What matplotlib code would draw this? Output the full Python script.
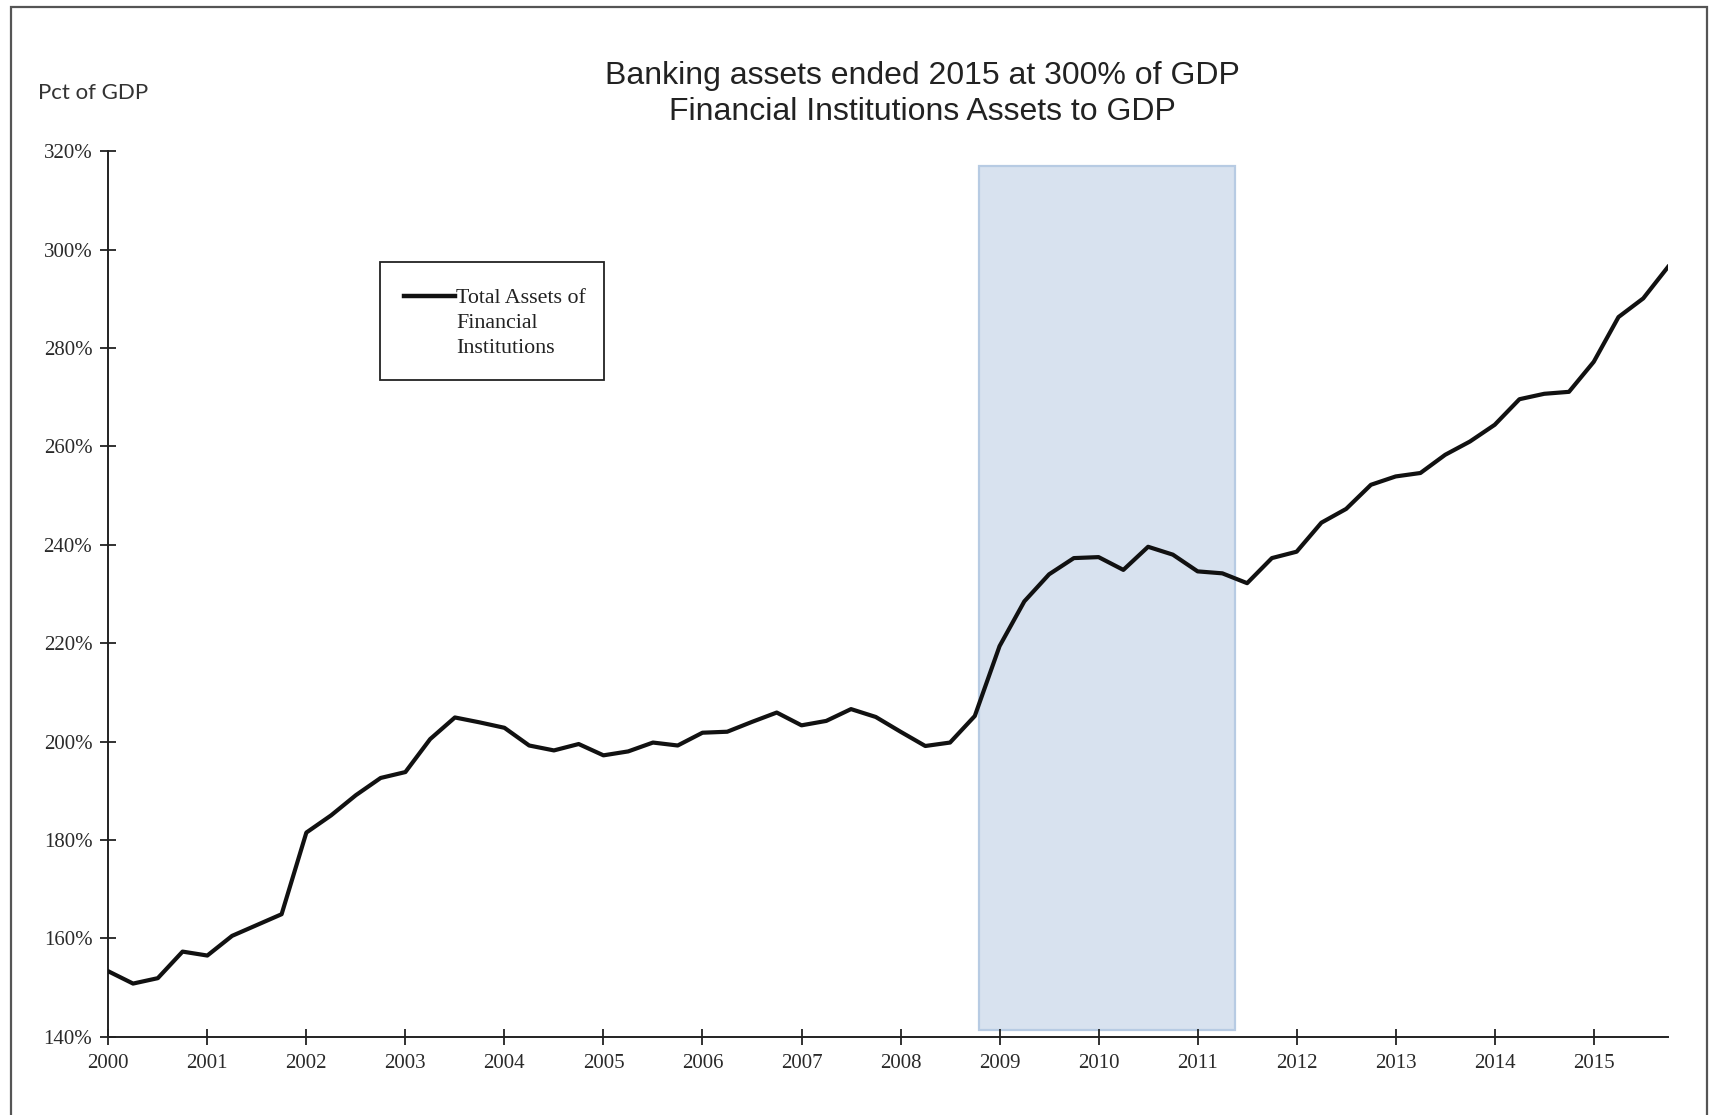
import numpy as np
import pandas as pd
import matplotlib
matplotlib.use("Agg")
import matplotlib.pyplot as plt
from matplotlib.patches import Rectangle
from matplotlib.lines import Line2D
from matplotlib.ticker import FuncFormatter

# quarterly data, 2000Q1 .. 2015Q4, total assets of financial institutions in pct of GDP
quarters = pd.period_range("2000Q1", "2015Q4", freq="Q")
assets_pct = [
    153.3, 150.8, 151.9, 157.3,   # 2000
    156.5, 160.5, 162.7, 164.9,   # 2001
    181.5, 185.0, 189.1, 192.6,   # 2002
    193.8, 200.5, 204.9, 203.9,   # 2003
    202.8, 199.2, 198.2, 199.5,   # 2004
    197.2, 198.0, 199.8, 199.2,   # 2005
    201.8, 202.0, 204.0, 205.9,   # 2006
    203.3, 204.2, 206.6, 205.0,   # 2007
    202.0, 199.1, 199.8, 205.2,   # 2008
    219.4, 228.5, 234.0, 237.3,   # 2009
    237.5, 234.9, 239.6, 238.0,   # 2010
    234.6, 234.2, 232.2, 237.3,   # 2011
    238.6, 244.5, 247.3, 252.2,   # 2012
    253.9, 254.6, 258.3, 261.0,   # 2013
    264.4, 269.6, 270.7, 271.1,   # 2014
    277.2, 286.3, 290.1, 296.5,   # 2015
]
year_ticks = list(range(2000, 2016))
pct_ticks = [140, 160, 180, 200, 220, 240, 260, 280, 300, 320]

# shaded crisis period
shade_start, shade_end = 2008.79, 2011.375
shade_low, shade_high = 141.4, 317.0

title_lines = ["Banking assets ended 2015 at 300% of GDP",
               "Financial Institutions Assets to GDP"]
legend_label = "Total Assets of\nFinancial\nInstitutions"

# fractional year for each quarter start
x = np.array([q.year + (q.quarter - 1) / 4 for q in quarters])

W, H = 1712, 1115
fig = plt.figure(figsize=(W / 100, H / 100), dpi=100)
fig.patch.set_facecolor("white")

ax = fig.add_axes([108.3 / W, 1 - 1036.7 / H, (1668 - 108.3) / W, (1036.7 - 151.3) / H])

ax.add_patch(Rectangle((shade_start, shade_low), shade_end - shade_start, shade_high - shade_low,
                       facecolor="#d8e2ef", edgecolor="#b7cbe3", lw=1.6, zorder=1))
ax.plot(x, assets_pct, color="#111111", lw=3.0, solid_joinstyle="round", zorder=3)

ax.set_xlim(2000, 2015.75)
ax.set_ylim(140, 320)
ax.set_xticks(year_ticks)
ax.set_yticks(pct_ticks)
ax.yaxis.set_major_formatter(FuncFormatter(lambda v, p: "%d%%" % v))

for side in ["top", "right"]:
    ax.spines[side].set_visible(False)
for side in ["left", "bottom"]:
    ax.spines[side].set_linewidth(1.4)
    ax.spines[side].set_color("#222222")

serif = ["Liberation Serif", "DejaVu Serif"]
ax.tick_params(axis="both", direction="inout", length=11, width=1.3, color="#222222")
ax.tick_params(axis="x", pad=7)
ax.tick_params(axis="y", pad=6)
for lab in ax.get_xticklabels() + ax.get_yticklabels():
    lab.set_family(serif)
    lab.set_fontsize(15)
    lab.set_color("#2a2a2a")

# titles
fig.text(922 / W, 1 - 76 / H, title_lines[0], ha="center", va="center",
         family=["Liberation Sans", "DejaVu Sans"], fontsize=23, color="#222222")
fig.text(922 / W, 1 - 112 / H, title_lines[1], ha="center", va="center",
         family=["Liberation Sans", "DejaVu Sans"], fontsize=23, color="#222222")
fig.text(38 / W, 1 - 93 / H, "Pct of GDP", ha="left", va="center",
         family=["Lato", "DejaVu Sans"], fontsize=16, color="#333333")

# legend box drawn by hand so the line sits next to the first text line
fig.add_artist(Rectangle((380 / W, 1 - 380 / H), 224 / W, 118 / H, transform=fig.transFigure,
                         facecolor="white", edgecolor="#222222", lw=1.3))
fig.add_artist(Line2D([404 / W, 455 / W], [1 - 296 / H, 1 - 296 / H], transform=fig.transFigure,
                      color="#111111", lw=3.2))
fig.text(456 / W, 1 - 289 / H, legend_label, ha="left", va="top",
         family=serif, fontsize=15.8, color="#222222", linespacing=1.42)

# outer frame around the chart (open at the bottom)
fig.add_artist(Rectangle((11 / W, -0.05), (1707 - 11) / W, 1.05 - 7 / H, transform=fig.transFigure,
                         fill=False, edgecolor="#555555", lw=1.6, clip_on=False))

fig.savefig("out.png", dpi=100)
